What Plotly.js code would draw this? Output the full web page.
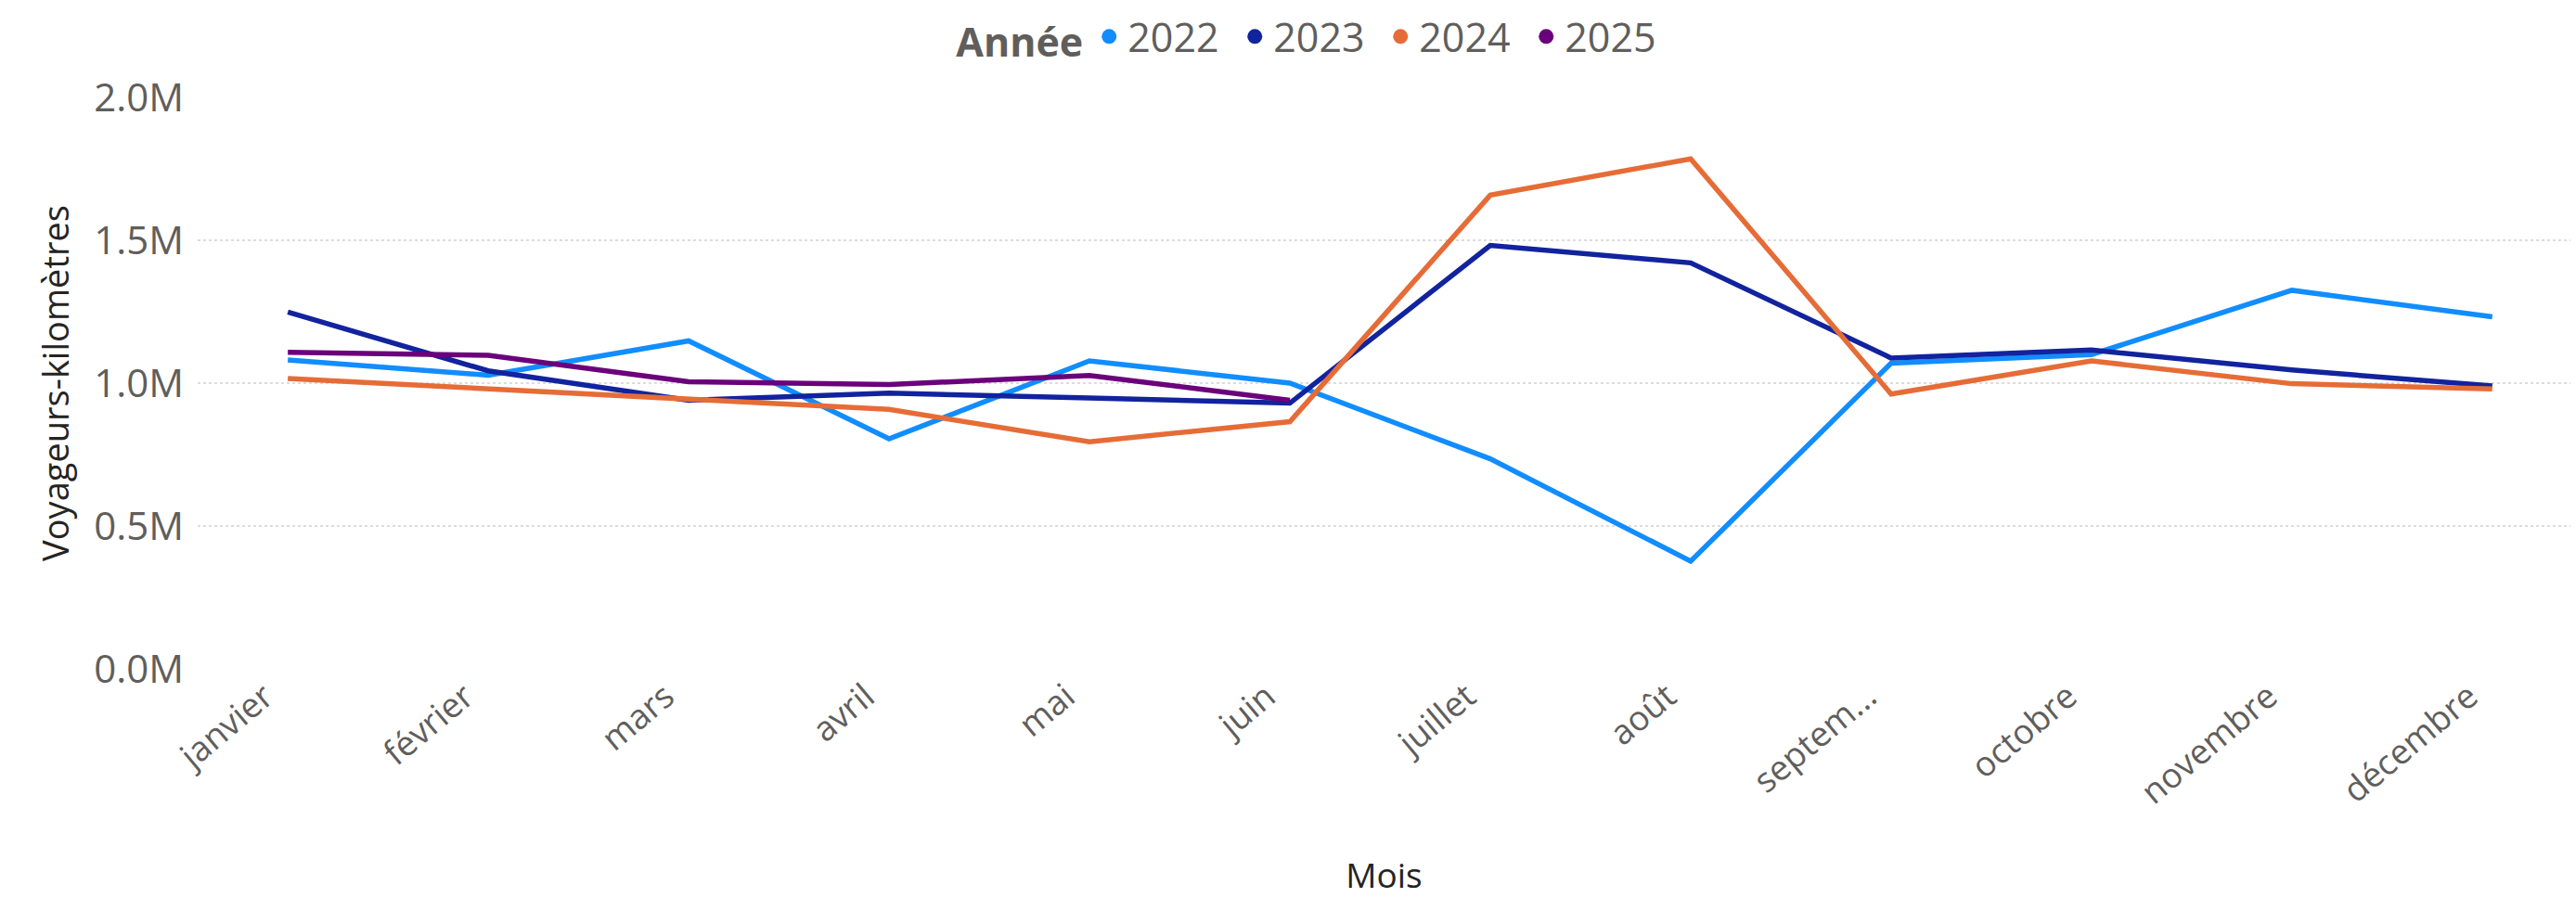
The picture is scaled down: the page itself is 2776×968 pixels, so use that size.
<!DOCTYPE html>
<html>
<head>
<meta charset="utf-8">
<script src="https://cdn.plot.ly/plotly-3.0.1.min.js"></script>
<style>
  html, body { margin: 0; padding: 0; background: #ffffff; }
  #chart { width: 2776px; height: 968px; }
</style>
</head>
<body>
<div id="chart"></div>
<script>
// Mois (catégories) et libellés affichés
const months = ['janvier', 'février', 'mars', 'avril', 'mai', 'juin',
    'juillet', 'août', 'septembre', 'octobre', 'novembre', 'décembre'];
const monthLabels = ['janvier', 'février', 'mars', 'avril', 'mai', 'juin',
    'juillet', 'août', 'septem...', 'octobre', 'novembre', 'décembre'];

// Voyageurs-kilomètres par année
const years = ['2022', '2023', '2024', '2025'];
const values2022 = [1081000, 1028000, 1148000, 805000, 1078000, 1000000,
    735000, 377000, 1070000, 1100000, 1325000, 1232000];
const values2023 = [1249000, 1043000, 940000, 965000, 948000, 930000,
    1482000, 1421000, 1088000, 1116000, 1046000, 990000];
const values2024 = [1016000, 980000, 940000, 908000, 795000, 865000,
    1658000, 1785000, 962000, 1078000, 998000, 980000];
const values2025 = [1108000, 1097000, 1005000, 995000, 1027000, 940000];

// Graduations de l'axe Y
const yTickVals = [0, 500000, 1000000, 1500000, 2000000];
const yTickText = ['0.0M', '0.5M', '1.0M', '1.5M', '2.0M'];

const colors = ['#118DFF', '#12239E', '#E66C37', '#6B007B'];
const series = [values2022, values2023, values2024, values2025];

const FONT = '"Segoe UI", "Open Sans", "Noto Sans", sans-serif';

const traces = [];
// courbes
series.forEach((vals, i) => {
    traces.push({
        x: months.slice(0, vals.length),
        y: vals,
        type: 'scatter',
        mode: 'lines',
        name: years[i],
        legendgroup: years[i],
        showlegend: false,
        line: { color: colors[i], width: 5.5 },
        hoverinfo: 'skip'
    });
});
// entrées de légende (pastilles rondes)
years.forEach((yr, i) => {
    traces.push({
        x: [null],
        y: [null],
        type: 'scatter',
        mode: 'markers',
        name: yr,
        legendgroup: yr,
        marker: { color: colors[i], size: 16, symbol: 'circle' }
    });
});

const layout = {
    width: 2776,
    height: 968,
    margin: { l: 213, r: 6, t: 105, b: 247 },
    paper_bgcolor: '#ffffff',
    plot_bgcolor: '#ffffff',
    font: { family: FONT, color: '#605E5C' },
    showlegend: true,
    legend: {
        orientation: 'h',
        xref: 'container',
        yref: 'container',
        x: 0.51,
        xanchor: 'center',
        y: 0.995,
        yanchor: 'top',
        font: { size: 43, color: '#605E5C', family: FONT },
        title: { text: '<b>Année</b>', font: { size: 43, color: '#605E5C', family: FONT } },
        itemwidth: 30,
        entrywidth: 112,
        traceorder: 'normal'
    },
    xaxis: {
        type: 'category',
        categoryorder: 'array',
        categoryarray: months,
        tickvals: months,
        ticktext: monthLabels,
        range: [-0.45, 11.39],
        tickangle: -40,
        ticklabelshift: -25,
        tickfont: { size: 37, color: '#605E5C', family: FONT },
        showgrid: false,
        zeroline: false,
        showline: false,
        ticks: '',
        title: {
            text: 'Mois',
            font: { size: 37, color: '#252423', family: FONT },
            standoff: 58
        }
    },
    yaxis: {
        range: [0, 2000000],
        tickvals: yTickVals,
        ticktext: yTickText,
        tickfont: { size: 42, color: '#605E5C', family: FONT },
        showgrid: true,
        gridcolor: '#dcdcdc',
        gridwidth: 2,
        griddash: 'dot',
        zeroline: false,
        showline: false,
        ticks: '',
        ticklabelstandoff: 14,
        title: {
            text: 'Voyageurs-kilomètres',
            font: { size: 38, color: '#252423', family: FONT },
            standoff: 14
        }
    }
};

Plotly.newPlot('chart', traces, layout, { displayModeBar: false, staticPlot: true });
</script>
</body>
</html>
